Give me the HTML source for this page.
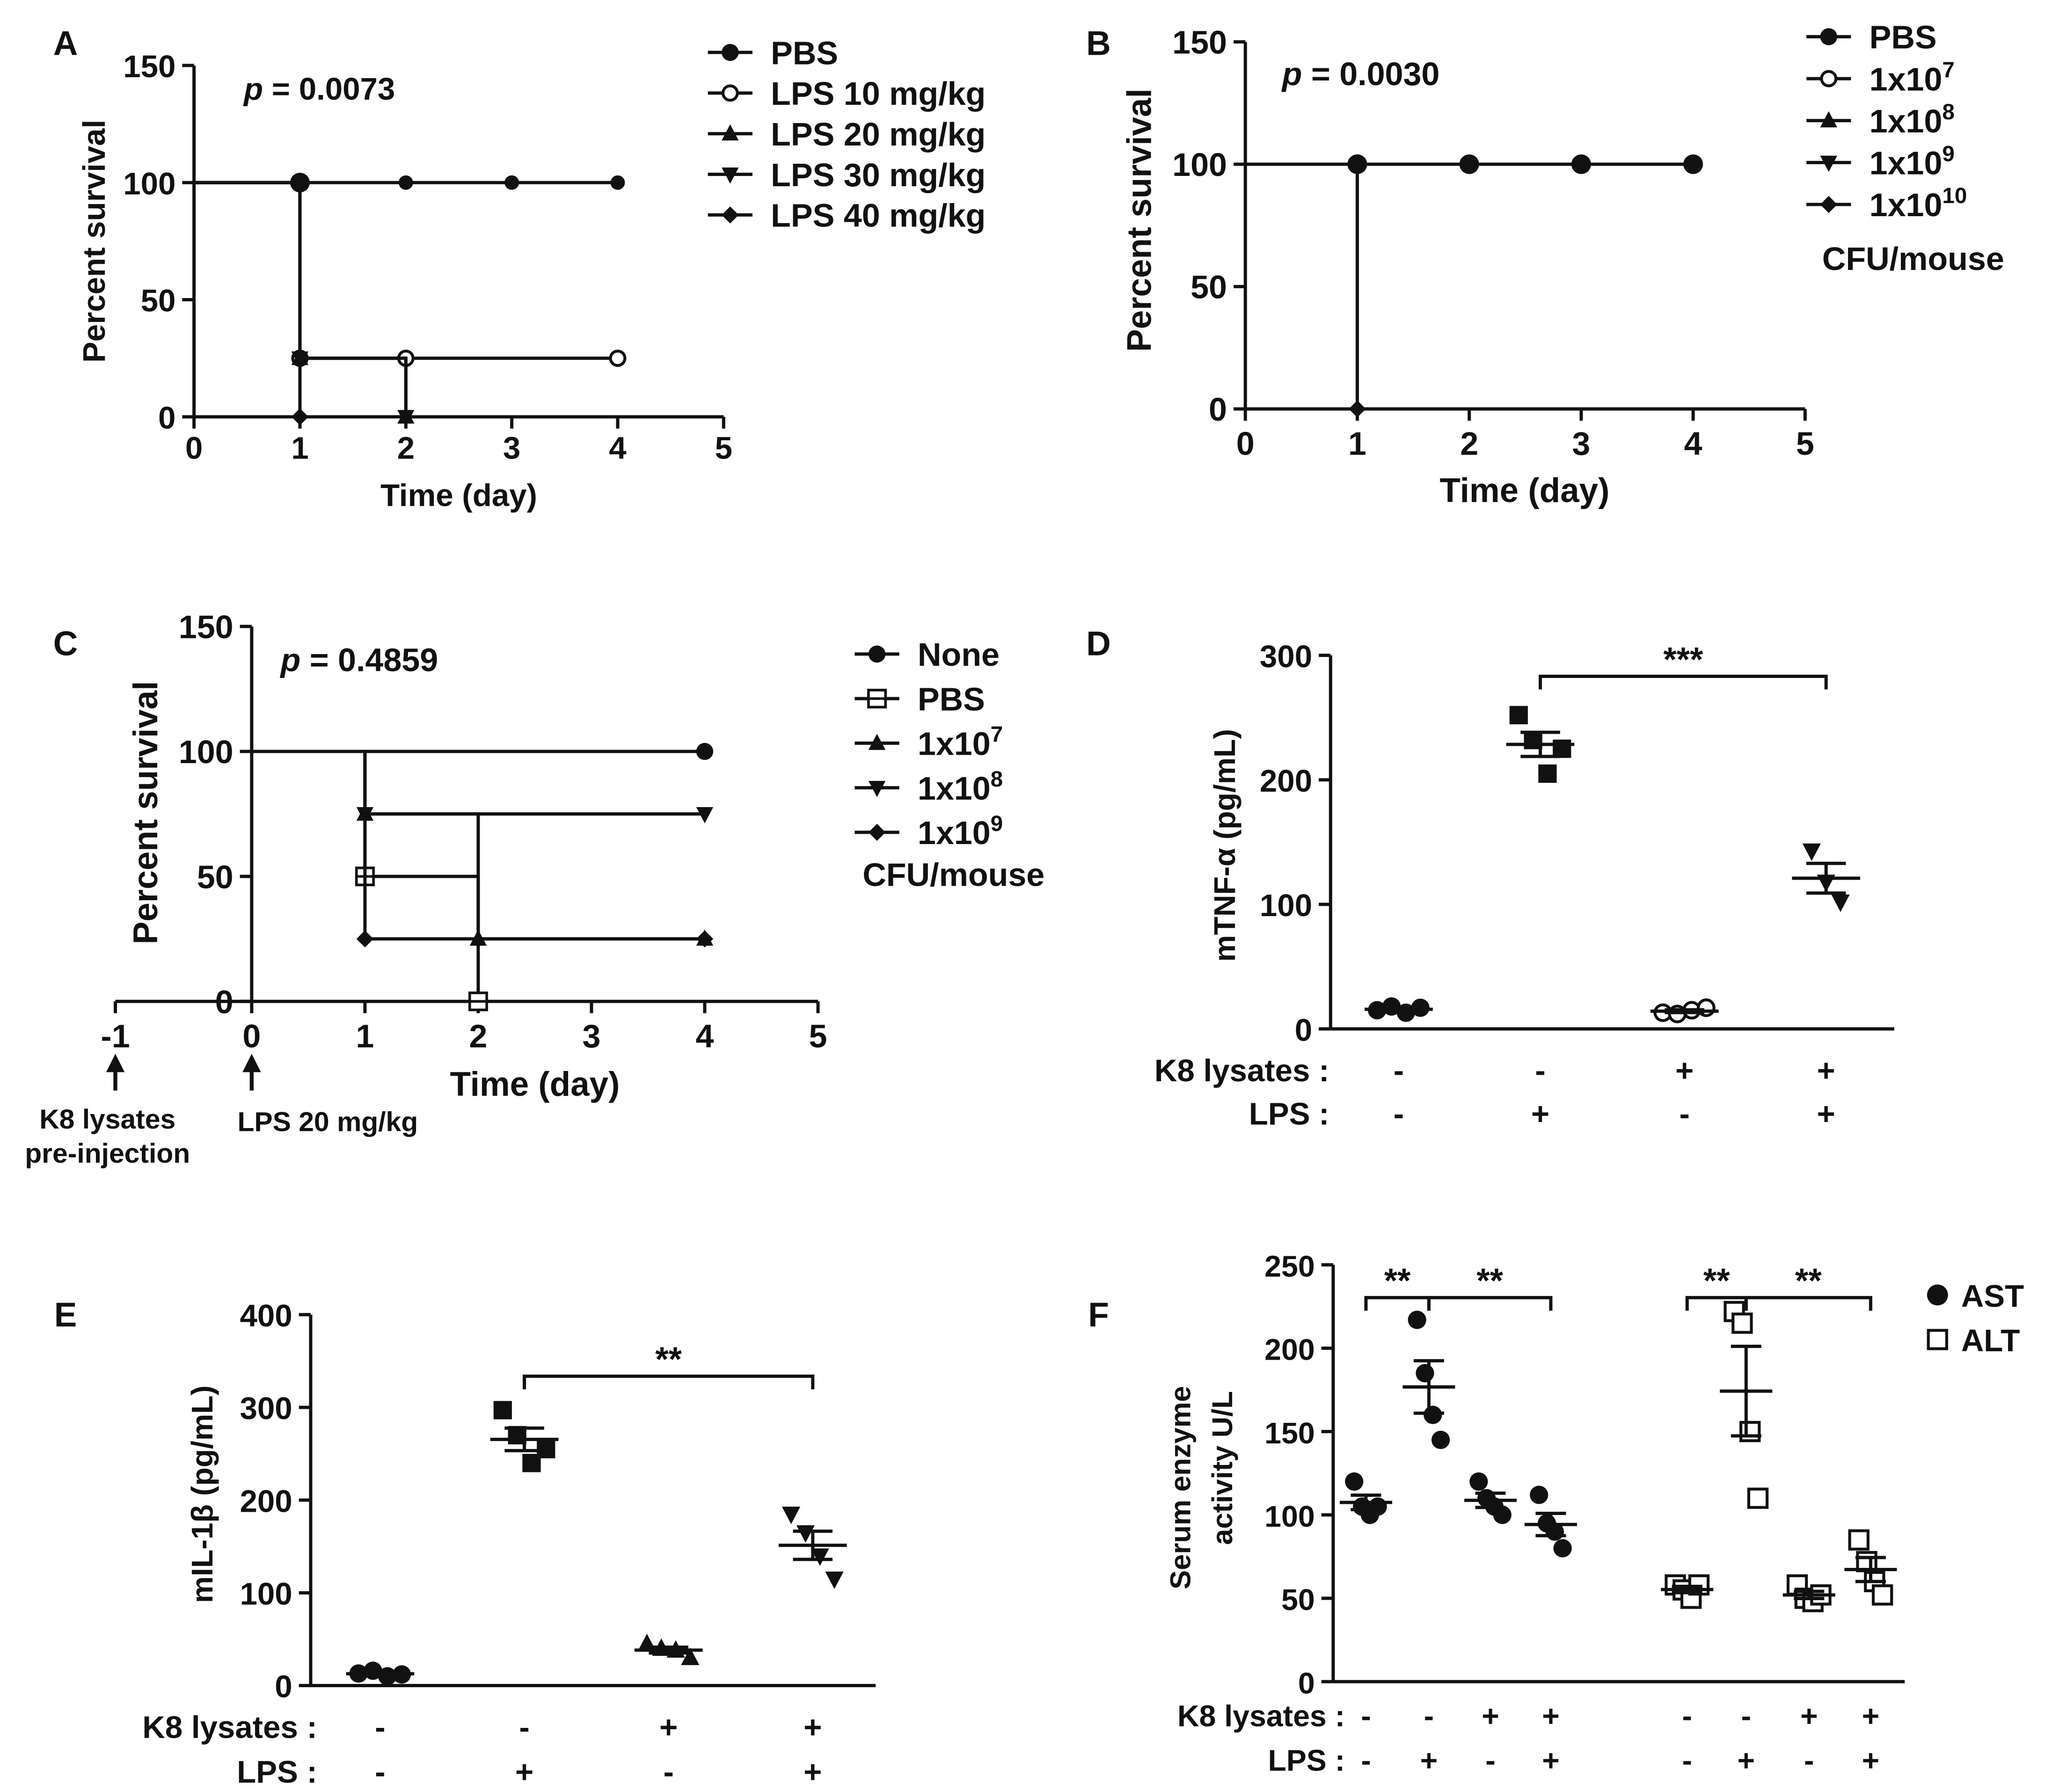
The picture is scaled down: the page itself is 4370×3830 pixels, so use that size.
<!DOCTYPE html>
<html><head><meta charset="utf-8">
<style>
html,body{margin:0;padding:0;background:#fff;}
svg{display:block;}
text{font-family:"Liberation Sans",Arial,sans-serif;font-weight:bold;fill:#111;}
</style></head>
<body>
<svg id="fig" width="4370" height="3830" viewBox="0 0 1560 1367.2" preserveAspectRatio="none" xmlns="http://www.w3.org/2000/svg"></svg>
<script>
// ---------- data ----------
const survDays = [0,1,2,3,4,5];
const survTicks = [0,50,100,150];
// Panel A series (step points [day, percent])
const aPBS = [[0,100],[1,100],[2,100],[3,100],[4,100]];
const aL10 = [[0,100],[1,25],[2,25],[4,25]];
const aL20 = [[0,100],[1,25],[2,0]];
const aL30 = [[0,100],[1,25],[2,0]];
const aL40 = [[0,100],[1,0]];
// Panel B
const bPBS = [[0,100],[1,100],[2,100],[3,100],[4,100]];
const b1e10 = [[0,100],[1,0]];
// Panel C
const cDays = [-1,0,1,2,3,4,5];
const cNone = [[0,100],[4,100]];
const cPBS = [[0,100],[1,50],[2,0]];
const c1e7 = [[0,100],[1,75],[2,25],[4,25]];
const c1e8 = [[0,100],[1,75],[4,75]];
const c1e9 = [[0,100],[1,25],[4,25]];
// Panel D
const dTicks = [0,100,200,300];
const dG1 = [15,18,13,17], dG2 = [252,232,205,225], dG3 = [13,12,15,17], dG4 = [143,118,102];
// Panel E
const eTicks = [0,100,200,300,400];
const eG1 = [13,16,10,12], eG2 = [297,270,240,255], eG3 = [45,40,38,30], eG4 = [185,165,140,115];
// Panel F
const fTicks = [0,50,100,150,200,250];
const fAST = [[120,105,100,105],[217,185,160,145],[120,110,105,100],[112,95,90,80]];
const fALT = [[58,55,50,58],[222,215,150,110],[58,50,48,52],[85,72,60,52]];

// ---------- helpers ----------
const svg = document.getElementById('fig');
const NS = 'http://www.w3.org/2000/svg';
function mk(tag, attrs, name){
  const e = document.createElementNS(NS, tag);
  for (const k in attrs) e.setAttribute(k, attrs[k]);
  
  
  svg.appendChild(e); return e;
}
function line(x1,y1,x2,y2,name,w){ return mk('line',{x1,y1,x2,y2,stroke:'#111','stroke-width':w||2.5},name); }
function txt(x,y,s,size,name,anchor,extra){
  const t = mk('text',Object.assign({x,y,'font-size':size,'text-anchor':anchor||'middle'},extra||{}),name);
  t.innerHTML = s; return t;
}
function marker(type,x,y,r,name){
  r = r||6.5;
  let e;
  if(type==='circle') e = mk('circle',{cx:x,cy:y,r,fill:'#111'},name);
  else if(type==='ocircle') e = mk('circle',{cx:x,cy:y,r:r-1,fill:'#fff',stroke:'#111','stroke-width':2.2},name);
  else if(type==='square') e = mk('rect',{x:x-r,y:y-r,width:2*r,height:2*r,fill:'#111'},name);
  else if(type==='osquare') e = mk('rect',{x:x-r,y:y-r,width:2*r,height:2*r,fill:'#fff',stroke:'#111','stroke-width':2.2},name);
  else if(type==='tri') e = mk('polygon',{points:`${x},${y-r*1.1} ${x-r},${y+r*0.8} ${x+r},${y+r*0.8}`,fill:'#111'},name);
  else if(type==='dtri') e = mk('polygon',{points:`${x},${y+r*1.1} ${x-r},${y-r*0.8} ${x+r},${y-r*0.8}`,fill:'#111'},name);
  else if(type==='diamond') e = mk('polygon',{points:`${x},${y-r} ${x+r},${y} ${x},${y+r} ${x-r},${y}`,fill:'#111'},name);
  else if(type==='osqline'){ e = mk('rect',{x:x-r,y:y-r,width:2*r,height:2*r,fill:'#fff',stroke:'#111','stroke-width':2},name); line(x-r,y,x+r,y,name+'-bar',2); }
  return e;
}
function stepSeries(pts,sx,sy,type,name,r){
  let d='';
  for(let i=0;i<pts.length;i++){
    const [dx,v]=pts[i];
    if(i===0) d+=`M${sx(dx)},${sy(v)}`;
    else d+=`H${sx(dx)}V${sy(v)}`;
  }
  mk('path',{d,fill:'none',stroke:'#111','stroke-width':2.5},name+'-line');
  pts.slice(1).forEach(p=>marker(type,sx(p[0]),sy(p[1]),r,name+'-point'));
}
function yAxis(x,y0,y1,ticks,sy,name,fs){
  line(x,y0,x,y1,name,2.5);
  ticks.forEach(t=>{ line(x-9,sy(t),x,sy(t),name+'-tick',2.5); txt(x-14,sy(t)+9,t,fs||24,name+'-label','end'); });
}
function legend(x,y,dy,items,name){
  items.forEach((it,i)=>{
    const yy=y+i*dy;
    line(x,yy,x+34,yy,name+'-entry-line',2.5);
    marker(it[0],x+17,yy,6.5,name+'-entry-marker');
    txt(x+48,yy+9,it[1],25,name+'-entry','start');
  });
}
function scatterGroup(vals,cx,sy,type,name,jit,half){
  jit = jit||11; half = half||26;
  const n=vals.length;
  vals.forEach((v,i)=>{ const off=(i-(n-1)/2)*jit; marker(type,cx+off,sy(v),7,name+'-point'); });
  const m=vals.reduce((a,b)=>a+b,0)/n;
  const sd=Math.sqrt(vals.reduce((a,b)=>a+(b-m)*(b-m),0)/(n-1));
  const se=sd/Math.sqrt(n);
  line(cx-half,sy(m),cx+half,sy(m),name+'-mean',2.5);
  line(cx,sy(m-se),cx,sy(m+se),name+'-sem',2.5);
  line(cx-half*0.58,sy(m-se),cx+half*0.58,sy(m-se),name+'-sem-cap',2.5);
  line(cx-half*0.58,sy(m+se),cx+half*0.58,sy(m+se),name+'-sem-cap',2.5);
}
function bracket(x1,x2,y,label,name){
  mk('path',{d:`M${x1},${y+10}V${y}H${x2}V${y+10}`,fill:'none',stroke:'#111','stroke-width':2.5},name);
  txt((x1+x2)/2,y-4,label,26,name+'-stars');
}

// ---------- Panel A ----------
(function(){
  const sx=d=>148+d*80.8, sy=v=>318-v*1.787;
  txt(50,42,'A',26,'panel-a-label');
  yAxis(148,318,50,survTicks,sy,'a-y-axis');
  line(148,318,552,318,'a-x-axis',2.5);
  survDays.forEach(d=>{ line(sx(d),318,sx(d),327,'a-x-tick',2.5); txt(sx(d),350,d,24,'a-x-tick-label'); });
  txt(350,386,'Time (day)',24,'a-x-axis-title');
  txt(80,184,'Percent survival',24,'a-y-axis-title','middle',{transform:'rotate(-90 80 184)'});
  txt(186,76,'<tspan font-style="italic">p</tspan> = 0.0073',24,'a-p-value','start');
  stepSeries(aPBS,sx,sy,'circle','a-pbs',5.5);
  stepSeries(aL10,sx,sy,'ocircle','a-lps10');
  stepSeries(aL20,sx,sy,'tri','a-lps20');
  stepSeries(aL30,sx,sy,'dtri','a-lps30');
  stepSeries(aL40,sx,sy,'diamond','a-lps40');
  marker('circle',sx(1),sy(100),7.5,'a-pbs-point');
  legend(540,40,31,[['circle','PBS'],['ocircle','LPS 10 mg/kg'],['tri','LPS 20 mg/kg'],['dtri','LPS 30 mg/kg'],['diamond','LPS 40 mg/kg']],'a-legend');
})();

// ---------- Panel B ----------
(function(){
  const sx=d=>950+d*85.4, sy=v=>312-v*1.867;
  txt(838,42,'B',26,'panel-b-label');
  yAxis(950,312,32,survTicks,sy,'b-y-axis',25);
  line(950,312,1377,312,'b-x-axis',2.5);
  survDays.forEach(d=>{ line(sx(d),312,sx(d),321,'b-x-tick',2.5); txt(sx(d),347,d,25,'b-x-tick-label'); });
  txt(1163,383,'Time (day)',26,'b-x-axis-title');
  txt(878,168,'Percent survival',26,'b-y-axis-title','middle',{transform:'rotate(-90 878 168)'});
  txt(978,65,'<tspan font-style="italic">p</tspan> = 0.0030',25,'b-p-value','start');
  stepSeries(bPBS,sx,sy,'circle','b-pbs',7.5);
  stepSeries(b1e10,sx,sy,'diamond','b-1e10');
  marker('circle',sx(1),sy(100),7.5,'b-pbs-point');
  legend(1378,28,32,[['circle','PBS'],['ocircle','1x10<tspan dy="-10" font-size="17">7</tspan>'],['tri','1x10<tspan dy="-10" font-size="17">8</tspan>'],['dtri','1x10<tspan dy="-10" font-size="17">9</tspan>'],['diamond','1x10<tspan dy="-10" font-size="17">10</tspan>']],'b-legend');
  txt(1390,206,'CFU/mouse',25,'b-legend-unit','start');
})();

// ---------- Panel C ----------
(function(){
  const sx=d=> d<0 ? 192+d*104 : 192+d*86.4, sy=v=>764-v*1.907;
  txt(50,500,'C',26,'panel-c-label');
  yAxis(192,764,478,survTicks,sy,'c-y-axis',25);
  line(88,764,624,764,'c-x-axis',2.5);
  cDays.forEach(d=>{ line(sx(d),764,sx(d),773,'c-x-tick',2.5); txt(sx(d),799,d,25,'c-x-tick-label'); });
  txt(408,836,'Time (day)',26,'c-x-axis-title');
  txt(120,620,'Percent survival',26,'c-y-axis-title','middle',{transform:'rotate(-90 120 620)'});
  txt(214,512,'<tspan font-style="italic">p</tspan> = 0.4859',25,'c-p-value','start');
  stepSeries(cNone,sx,sy,'circle','c-none');
  stepSeries(cPBS,sx,sy,'osqline','c-pbs');
  stepSeries(c1e7,sx,sy,'tri','c-1e7');
  stepSeries(c1e8,sx,sy,'dtri','c-1e8');
  stepSeries(c1e9,sx,sy,'diamond','c-1e9');
  [[88],[192]].forEach(a=>{
    line(a[0],808,a[0],832,'c-arrow-shaft',3);
    mk('polygon',{points:`${a[0]},804 ${a[0]-7},818 ${a[0]+7},818`,fill:'#111'},'c-arrow-head');
  });
  txt(82,861,'K8 lysates',21,'c-annotation-k8');
  txt(82,887,'pre-injection',21,'c-annotation-pre');
  txt(250,863,'LPS 20 mg/kg',21,'c-annotation-lps');
  legend(652,499,34,[['circle','None'],['osqline','PBS'],['tri','1x10<tspan dy="-10" font-size="17">7</tspan>'],['dtri','1x10<tspan dy="-10" font-size="17">8</tspan>'],['diamond','1x10<tspan dy="-10" font-size="17">9</tspan>']],'c-legend');
  txt(658,676,'CFU/mouse',25,'c-legend-unit','start');
})();

// ---------- Panel D ----------
(function(){
  const sy=v=>785-v*0.95, cx=[1067,1175,1285,1393];
  txt(838,500,'D',26,'panel-d-label');
  yAxis(1015,785,500,dTicks,sy,'d-y-axis');
  line(1015,785,1445,785,'d-x-axis',2.5);
  txt(942,645,'mTNF-α  (pg/mL)',23,'d-y-axis-title','middle',{transform:'rotate(-90 942 645)'});
  scatterGroup(dG1,cx[0],sy,'circle','d-group1');
  scatterGroup(dG2,cx[1],sy,'square','d-group2');
  scatterGroup(dG3,cx[2],sy,'ocircle','d-group3');
  scatterGroup(dG4,cx[3],sy,'dtri','d-group4');
  bracket(cx[1],cx[3],516,'***','d-significance');
  txt(1014,825,'K8 lysates :',24,'d-row-k8','end');
  txt(1014,858,'LPS :',24,'d-row-lps','end');
  ['-','-','+','+'].forEach((s,i)=>txt(cx[i],825,s,24,'d-k8-sign'));
  ['-','+','-','+'].forEach((s,i)=>txt(cx[i],858,s,24,'d-lps-sign'));
})();

// ---------- Panel E ----------
(function(){
  const sy=v=>1286-v*0.7075, cx=[290,400,510,620];
  txt(50,1012,'E',26,'panel-e-label');
  yAxis(237,1286,1003,eTicks,sy,'e-y-axis');
  line(237,1286,668,1286,'e-x-axis',2.5);
  txt(162,1140,'mIL-1β  (pg/mL)',23,'e-y-axis-title','middle',{transform:'rotate(-90 162 1140)'});
  scatterGroup(eG1,cx[0],sy,'circle','e-group1');
  scatterGroup(eG2,cx[1],sy,'square','e-group2');
  scatterGroup(eG3,cx[2],sy,'tri','e-group3');
  scatterGroup(eG4,cx[3],sy,'dtri','e-group4');
  bracket(cx[1],cx[3],1050,'**','e-significance');
  txt(242,1326,'K8 lysates :',24,'e-row-k8','end');
  txt(242,1360,'LPS :',24,'e-row-lps','end');
  ['-','-','+','+'].forEach((s,i)=>txt(cx[i],1326,s,24,'e-k8-sign'));
  ['-','+','-','+'].forEach((s,i)=>txt(cx[i],1360,s,24,'e-lps-sign'));
})();

// ---------- Panel F ----------
(function(){
  const sy=v=>1283-v*1.272, cxA=[1042,1090,1137,1183], cxL=[1287,1332,1380,1427];
  txt(838,1012,'F',26,'panel-f-label');
  yAxis(1017,1283,965,fTicks,sy,'f-y-axis',23);
  line(1017,1283,1453,1283,'f-x-axis',2.5);
  txt(908,1135,'Serum enzyme',22,'f-y-axis-title','middle',{transform:'rotate(-90 908 1135)'});
  txt(940,1120,'activity U/L',22,'f-y-axis-title-2','middle',{transform:'rotate(-90 940 1120)'});
  fAST.forEach((g,i)=>scatterGroup(g,cxA[i],sy,'circle','f-ast-group',6,20));
  fALT.forEach((g,i)=>scatterGroup(g,cxL[i],sy,'osquare','f-alt-group',6,20));
  bracket(cxA[0],cxA[1],990,'**','f-ast-sig1');
  bracket(cxA[1],cxA[3],990,'**','f-ast-sig2');
  bracket(cxL[0],cxL[1],990,'**','f-alt-sig1');
  bracket(cxL[1],cxL[3],990,'**','f-alt-sig2');
  marker('circle',1478,988,8,'f-legend-ast-marker');
  txt(1496,997,'AST',24,'f-legend-ast','start');
  marker('osquare',1478,1022,7,'f-legend-alt-marker');
  txt(1496,1031,'ALT',24,'f-legend-alt','start');
  txt(1026,1317,'K8 lysates :',23,'f-row-k8','end');
  txt(1026,1351,'LPS :',23,'f-row-lps','end');
  const all=[...cxA,...cxL];
  ['-','-','+','+','-','-','+','+'].forEach((s,i)=>txt(all[i],1317,s,23,'f-k8-sign'));
  ['-','+','-','+','-','+','-','+'].forEach((s,i)=>txt(all[i],1351,s,23,'f-lps-sign'));
})();
</script>
</body></html>
